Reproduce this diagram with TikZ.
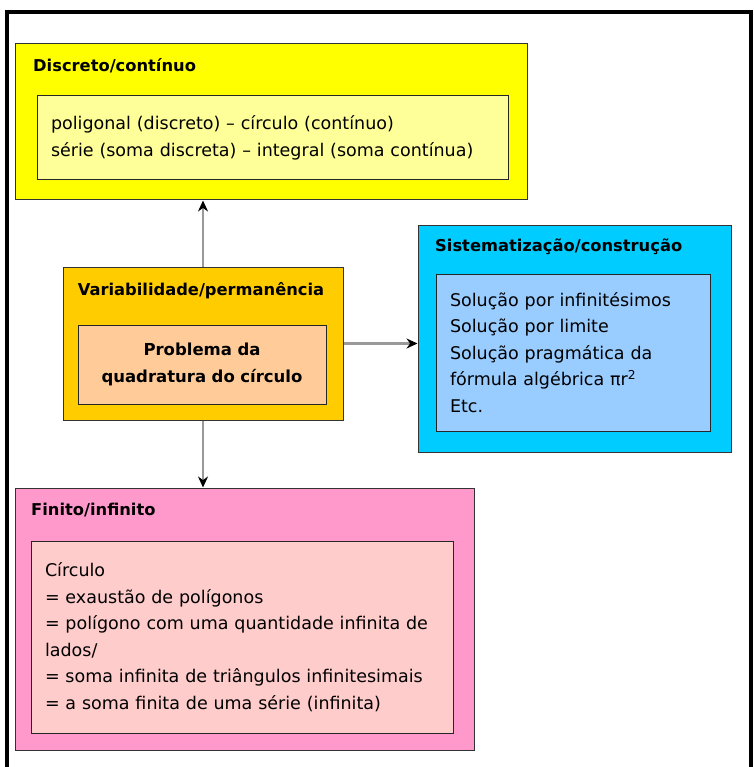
\documentclass[tikz,border=0pt]{standalone}
\usepackage{fontspec}
\setmainfont{DejaVu Sans}
\usetikzlibrary{arrows.meta}

\definecolor{discout}{RGB}{255,255,0}
\definecolor{discin}{RGB}{255,255,153}
\definecolor{varout}{RGB}{255,204,0}
\definecolor{varin}{RGB}{255,204,153}
\definecolor{sisout}{RGB}{0,204,255}
\definecolor{sisin}{RGB}{153,204,255}
\definecolor{finout}{RGB}{255,153,204}
\definecolor{finin}{RGB}{255,204,204}

\tikzset{
  outerbox/.style={draw=black!80, line width=1pt, inner sep=0pt},
  innerbox/.style={draw=black!85, line width=1pt, inner xsep=14pt, inner ysep=0pt, align=left,
    font=\fontsize{17.5}{26.5}\selectfont},
  boxtitle/.style={anchor=west, inner sep=0pt, font=\fontsize{16.3}{18}\selectfont\bfseries},
  link/.style={draw=black!40, line width=2.4pt, -{Stealth[black, length=11pt, width=10pt]}}
}

\begin{document}
\begin{tikzpicture}[x=1pt, y=-1pt]
  \useasboundingbox (0,0) rectangle (753,767);
  \draw[line width=4pt] (7,767) -- (7,12.5) -- (751,12.5) -- (751,767);

  % Discreto/continuo
  \node[outerbox, fill=discout, minimum width=512pt, minimum height=156pt] (disc) at (271,122) {};
  \node[boxtitle] (disctitle) at (33,66) {Discreto/contínuo};
  \node[innerbox, fill=discin, text width=443pt, minimum height=84pt] (discbody) at (272.5,138)
    {poligonal (discreto) – círculo (contínuo)\\série (soma discreta) – integral (soma contínua)\par\vspace*{5pt}};

  % Variabilidade/permanencia
  \node[outerbox, fill=varout, minimum width=280pt, minimum height=153pt] (var) at (203,343.5) {};
  \node[boxtitle, anchor=center] (vartitle) at (201,291) {Variabilidade/permanência};
  \node[innerbox, fill=varin, align=center, text width=220pt, minimum height=79pt,
    font=\fontsize{16.5}{27}\selectfont\bfseries] (varbody) at (202,364.5)
    {Problema da\\quadratura do círculo};

  % Sistematizacao/construcao
  \node[outerbox, fill=sisout, minimum width=313pt, minimum height=227pt] (sis) at (574.5,338.5) {};
  \node[boxtitle] (sistitle) at (435,247) {Sistematização/construção};
  \node[innerbox, fill=sisin, text width=246pt, minimum height=157pt] (sisbody) at (573,352.5)
    {Solução por infinitésimos\\Solução por limite\\Solução pragmática da\\fórmula algébrica πr\textsuperscript{2}\\Etc.\par\vspace*{8pt}};

  % Finito/infinito
  \node[outerbox, fill=finout, minimum width=459pt, minimum height=262pt] (fin) at (244.5,619) {};
  \node[boxtitle] (fintitle) at (31,510) {Finito/infinito};
  \node[innerbox, fill=finin, text width=394pt, minimum height=192pt] (finbody) at (242,637)
    {Círculo\\= exaustão de polígonos\\= polígono com uma quantidade infinita de\\lados/\\= soma infinita de triângulos infinitesimais\\= a soma finita de uma série (infinita)\par\vspace*{10pt}};

  % links
  \draw[link] (var.north) -- (var.north |- disc.south);
  \draw[link] (var.east) -- (var.east -| sis.west);
  \draw[link] (var.south) -- (var.south |- fin.north);
\end{tikzpicture}
\end{document}
